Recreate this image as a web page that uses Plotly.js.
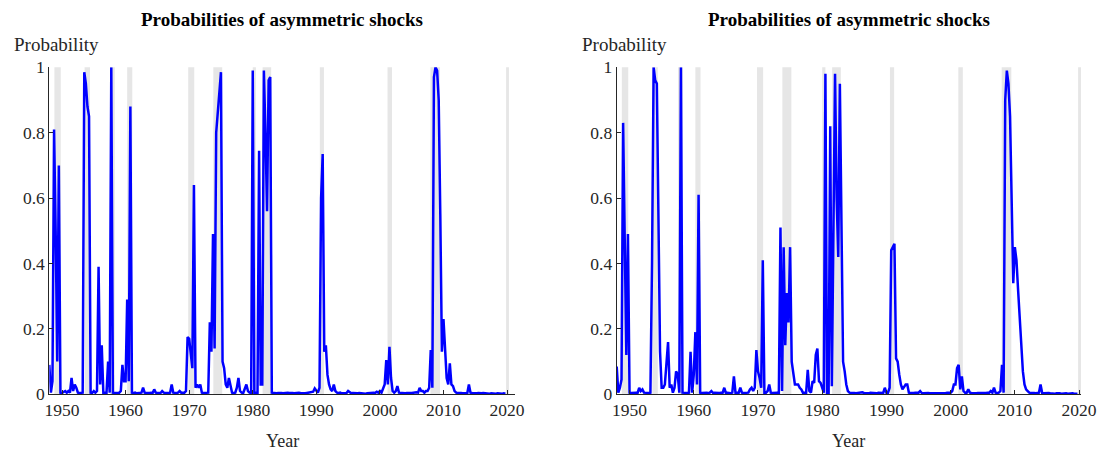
<!DOCTYPE html>
<html>
<head>
<meta charset="utf-8">
<script src="https://cdn.plot.ly/plotly-3.0.1.min.js"></script>
<style>html,body{margin:0;padding:0;background:#fff;}#chart{width:1107px;height:452px;}</style>
</head>
<body>
<div id="chart"></div>
<script>
// Quarterly series, first observation 1948Q1 (plotted at 1948.00), four values per year
const startYear = 1948;
const probLeft = [
  0.09, 0.005, 0.04, 0.81,   // 1948
  0.5, 0.1, 0.7, 0.005,      // 1949
  0.004, 0.006, 0.01, 0.005, // 1950
  0.01, 0.005, 0.05, 0.01,   // 1951
  0.03, 0.02, 0.005, 0.004,  // 1952
  0.005, 0.005, 0.985, 0.95, // 1953
  0.88, 0.85, 0.005, 0.004,  // 1954
  0.01, 0.005, 0.01, 0.39,   // 1955
  0.03, 0.15, 0.005, 0.004,  // 1956
  0.005, 0.1, 0.005, 1.0,    // 1957
  0.005, 0.004, 0.005, 0.004,// 1958
  0.005, 0.01, 0.09, 0.04,   // 1959
  0.04, 0.29, 0.04, 0.88,    // 1960
  0.005, 0.004, 0.005, 0.003,// 1961
  0.004, 0.005, 0.005, 0.02, // 1962
  0.005, 0.004, 0.003, 0.004,// 1963
  0.005, 0.004, 0.015, 0.005,// 1964
  0.004, 0.005, 0.004, 0.01, // 1965
  0.005, 0.004, 0.003, 0.004,// 1966
  0.005, 0.03, 0.005, 0.004, // 1967
  0.004, 0.005, 0.01, 0.005, // 1968
  0.004, 0.005, 0.01, 0.175, // 1969
  0.17, 0.12, 0.08, 0.64,    // 1970
  0.02, 0.03, 0.02, 0.03,    // 1971
  0.005, 0.004, 0.005, 0.004,// 1972
  0.005, 0.22, 0.13, 0.49,   // 1973
  0.14, 0.8, 0.86, 0.93,     // 1974
  0.985, 0.1, 0.08, 0.03,    // 1975
  0.02, 0.05, 0.03, 0.005,   // 1976
  0.004, 0.005, 0.02, 0.05,  // 1977
  0.01, 0.005, 0.004, 0.02,  // 1978
  0.03, 0.01, 0.005, 0.004,  // 1979
  0.99, 0.005, 0.004, 0.005, // 1980
  0.745, 0.03, 0.03, 0.99,   // 1981
  0.8, 0.56, 0.96, 0.97,     // 1982
  0.005, 0.004, 0.005, 0.003,// 1983
  0.004, 0.005, 0.004, 0.003,// 1984
  0.004, 0.003, 0.005, 0.004,// 1985
  0.005, 0.004, 0.003, 0.004,// 1986
  0.003, 0.005, 0.004, 0.003,// 1987
  0.004, 0.003, 0.004, 0.005,// 1988
  0.004, 0.005, 0.008, 0.018,// 1989
  0.01, 0.005, 0.02, 0.6,    // 1990
  0.735, 0.13, 0.15, 0.06,   // 1991
  0.03, 0.015, 0.01, 0.03,   // 1992
  0.01, 0.005, 0.004, 0.005, // 1993
  0.003, 0.004, 0.005, 0.004,// 1994
  0.01, 0.005, 0.003, 0.004, // 1995
  0.003, 0.004, 0.003, 0.004,// 1996
  0.003, 0.004, 0.003, 0.002,// 1997
  0.003, 0.004, 0.003, 0.004,// 1998
  0.005, 0.004, 0.008, 0.005,// 1999
  0.01, 0.005, 0.02, 0.03,   // 2000
  0.105, 0.03, 0.145, 0.05,  // 2001
  0.01, 0.005, 0.01, 0.025,  // 2002
  0.005, 0.004, 0.003, 0.004,// 2003
  0.003, 0.004, 0.003, 0.004,// 2004
  0.004, 0.005, 0.004, 0.006,// 2005
  0.005, 0.02, 0.01, 0.01,   // 2006
  0.005, 0.01, 0.01, 0.02,   // 2007
  0.135, 0.02, 0.97, 1.0,    // 2008
  0.99, 0.9, 0.55, 0.13,     // 2009
  0.23, 0.12, 0.05, 0.03,    // 2010
  0.095, 0.03, 0.025, 0.01,  // 2011
  0.005, 0.004, 0.005, 0.004,// 2012
  0.003, 0.004, 0.005, 0.004,// 2013
  0.03, 0.005, 0.004, 0.003, // 2014
  0.004, 0.003, 0.004, 0.003,// 2015
  0.003, 0.004, 0.003, 0.002,// 2016
  0.003, 0.002, 0.003, 0.002,// 2017
  0.003, 0.002, 0.003, 0.002,// 2018
  0.003, 0.002, 0.003, 0.002 // 2019
];
const probRight = [
  0.085, 0.005, 0.02, 0.045, // 1948
  0.83, 0.5, 0.12, 0.49,     // 1949
  0.005, 0.004, 0.005, 0.004,// 1950
  0.005, 0.004, 0.02, 0.01,  // 1951
  0.015, 0.005, 0.004, 0.005,// 1952
  0.004, 0.005, 0.4, 1.0,    // 1953
  0.96, 0.95, 0.55, 0.13,    // 1954
  0.02, 0.02, 0.03, 0.1,     // 1955
  0.16, 0.02, 0.03, 0.005,   // 1956
  0.02, 0.07, 0.06, 0.005,   // 1957
  1.0, 0.005, 0.004, 0.005,  // 1958
  0.004, 0.005, 0.13, 0.005, // 1959
  0.06, 0.19, 0.03, 0.61,    // 1960
  0.005, 0.004, 0.005, 0.004,// 1961
  0.005, 0.004, 0.005, 0.01, // 1962
  0.004, 0.005, 0.004, 0.003,// 1963
  0.004, 0.005, 0.005, 0.02, // 1964
  0.004, 0.005, 0.004, 0.003,// 1965
  0.005, 0.055, 0.005, 0.004,// 1966
  0.005, 0.02, 0.005, 0.004, // 1967
  0.005, 0.004, 0.005, 0.015,// 1968
  0.02, 0.01, 0.02, 0.135,   // 1969
  0.07, 0.05, 0.02, 0.41,    // 1970
  0.005, 0.005, 0.01, 0.03,  // 1971
  0.005, 0.004, 0.005, 0.004,// 1972
  0.005, 0.004, 0.51, 0.01,  // 1973
  0.45, 0.15, 0.31, 0.22,    // 1974
  0.45, 0.1, 0.06, 0.03,     // 1975
  0.03, 0.03, 0.02, 0.015,   // 1976
  0.005, 0.004, 0.005, 0.075,// 1977
  0.01, 0.005, 0.04, 0.035,  // 1978
  0.12, 0.14, 0.04, 0.035,   // 1979
  0.02, 0.005, 0.98, 0.005,  // 1980
  0.005, 0.82, 0.025, 0.5,   // 1981
  0.98, 0.6, 0.42, 0.95,     // 1982
  0.5, 0.1, 0.07, 0.03,      // 1983
  0.01, 0.005, 0.004, 0.005, // 1984
  0.004, 0.003, 0.004, 0.005,// 1985
  0.004, 0.006, 0.004, 0.003,// 1986
  0.004, 0.003, 0.005, 0.004,// 1987
  0.003, 0.004, 0.003, 0.005,// 1988
  0.004, 0.005, 0.004, 0.02, // 1989
  0.005, 0.005, 0.02, 0.44,  // 1990
  0.45, 0.46, 0.11, 0.1,     // 1991
  0.06, 0.03, 0.015, 0.025,  // 1992
  0.03, 0.03, 0.005, 0.004,  // 1993
  0.003, 0.004, 0.005, 0.004,// 1994
  0.005, 0.01, 0.004, 0.003, // 1995
  0.004, 0.003, 0.004, 0.003,// 1996
  0.003, 0.004, 0.003, 0.004,// 1997
  0.003, 0.002, 0.003, 0.004,// 1998
  0.003, 0.004, 0.005, 0.004,// 1999
  0.005, 0.01, 0.03, 0.03,   // 2000
  0.08, 0.09, 0.015, 0.055,  // 2001
  0.01, 0.005, 0.005, 0.015, // 2002
  0.005, 0.004, 0.003, 0.004,// 2003
  0.003, 0.004, 0.003, 0.004,// 2004
  0.004, 0.003, 0.004, 0.005,// 2005
  0.005, 0.01, 0.005, 0.02,  // 2006
  0.005, 0.004, 0.005, 0.01, // 2007
  0.09, 0.005, 0.9, 0.99,    // 2008
  0.95, 0.85, 0.6, 0.34,     // 2009
  0.45, 0.41, 0.32, 0.23,    // 2010
  0.15, 0.07, 0.03, 0.015,   // 2011
  0.01, 0.005, 0.004, 0.005, // 2012
  0.004, 0.003, 0.004, 0.005,// 2013
  0.03, 0.004, 0.003, 0.004, // 2014
  0.003, 0.004, 0.003, 0.002,// 2015
  0.003, 0.002, 0.003, 0.004,// 2016
  0.003, 0.002, 0.003, 0.002,// 2017
  0.003, 0.002, 0.003, 0.002,// 2018
  0.003, 0.002, 0.003, 0.002 // 2019
];
// Recession shading (start, end in decimal years)
const recStart = [1948.8, 1953.55, 1957.55, 1960.25, 1969.85, 1973.8, 1980.0, 1981.55, 1990.55, 2001.2, 2007.95, 2019.85];
const recEnd   = [1949.8, 1954.4, 1958.3, 1961.05, 1970.8, 1975.2, 1980.5, 1982.9, 1991.2, 2001.9, 2009.45, 2020.3];
const xTicks = [1950, 1960, 1970, 1980, 1990, 2000, 2010, 2020];
const xTickText = ['1950', '1960', '1970', '1980', '1990', '2000', '2010', '2020'];
const yTicks = [0, 0.2, 0.4, 0.6, 0.8, 1];
const yTickText = ['0', '0.2', '0.4', '0.6', '0.8', '1'];
const titleText = 'Probabilities of asymmetric shocks';
const yLabel = 'Probability';
const xLabel = 'Year';

const quarters = n => Array.from({length: n}, (_, i) => startYear + i / 4);

const W = 1107, H = 452;
const FONT = '"Liberation Serif", "Times New Roman", serif';
const TXT = '#262626';
const panels = [
  {x0: 49.3, x1: 515, range: [1948.0, 2021.25], data: probLeft},
  {x0: 616.7, x1: 1081, range: [1948.0, 2020.3], data: probRight}
];
const yTop = 67.3, yBot = 394.3;

const traces = [];
const shapes = [];
const annotations = [];
const layout = {
  width: W, height: H,
  margin: {l: 0, r: 0, t: 0, b: 0},
  paper_bgcolor: '#fff', plot_bgcolor: '#fff',
  showlegend: false,
  font: {family: FONT, color: TXT, size: 17}
};

panels.forEach((p, k) => {
  const xs = k === 0 ? '' : String(k + 1);
  const xa = 'x' + xs, ya = 'y' + xs;
  traces.push({
    type: 'scatter', mode: 'lines',
    x: quarters(p.data.length), y: p.data,
    xaxis: xa, yaxis: ya,
    line: {color: '#0000ff', width: 2.5},
    hoverinfo: 'skip'
  });
  recStart.forEach((s, i) => {
    shapes.push({
      type: 'rect', xref: xa, yref: ya + ' domain',
      x0: s, x1: recEnd[i], y0: 0, y1: 1,
      fillcolor: '#e6e6e6', line: {width: 0}, layer: 'below'
    });
  });
  layout['xaxis' + xs] = {
    domain: [p.x0 / W, p.x1 / W], range: p.range, anchor: ya,
    showline: true, linecolor: TXT, linewidth: 1,
    ticks: 'inside', ticklen: 4, tickcolor: TXT, tickwidth: 1,
    tickmode: 'array', tickvals: xTicks, ticktext: xTickText,
    showgrid: false, zeroline: false, fixedrange: true,
    tickfont: {family: FONT, size: 17.5, color: TXT}
  };
  layout['yaxis' + xs] = {
    domain: [(H - yBot) / H, (H - yTop) / H], range: [0, 1], anchor: xa,
    showline: true, linecolor: TXT, linewidth: 1,
    ticks: 'inside', ticklen: 4, tickcolor: TXT, tickwidth: 1,
    tickmode: 'array', tickvals: yTicks, ticktext: yTickText,
    showgrid: false, zeroline: false, fixedrange: true,
    tickfont: {family: FONT, size: 17.5, color: TXT}
  };
  const cx = (p.x0 + p.x1) / 2;
  annotations.push({
    xref: 'paper', yref: 'paper', x: cx / W, y: (H - 19) / H,
    xanchor: 'center', yanchor: 'middle', showarrow: false,
    text: '<b>' + titleText + '</b>', font: {family: FONT, size: 19, color: '#000'}
  });
  annotations.push({
    xref: 'paper', yref: 'paper', x: (p.x0 - 37) / W, y: (H - 44) / H,
    xanchor: 'left', yanchor: 'middle', showarrow: false,
    text: yLabel, font: {family: FONT, size: 19, color: TXT}
  });
  annotations.push({
    xref: 'paper', yref: 'paper', x: cx / W, y: (H - 441) / H,
    xanchor: 'center', yanchor: 'middle', showarrow: false,
    text: xLabel, font: {family: FONT, size: 18, color: TXT}
  });
});
layout.shapes = shapes;
layout.annotations = annotations;

Plotly.newPlot('chart', traces, layout, {displayModeBar: false, staticPlot: true});
</script>
</body>
</html>
